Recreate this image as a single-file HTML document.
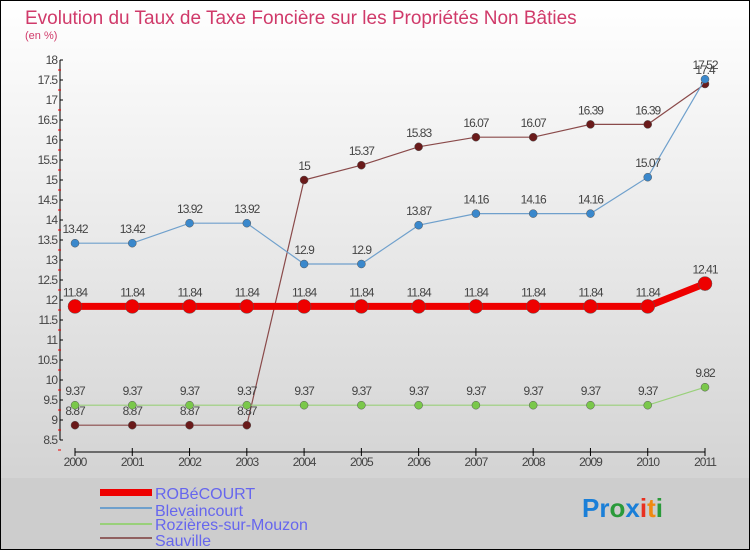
<!DOCTYPE html>
<html><head><meta charset="utf-8"><style>
body{margin:0;width:750px;height:550px;overflow:hidden;font-family:"Liberation Sans",sans-serif;}
svg text{font-family:"Liberation Sans",sans-serif;}
</style></head><body>
<svg id="c" width="750" height="550" xmlns="http://www.w3.org/2000/svg">
<defs><linearGradient id="bg" x1="0" y1="0" x2="0" y2="1"><stop offset="0" stop-color="#ffffff"/><stop offset="1" stop-color="#cdcdcd"/></linearGradient></defs>
<rect x="0.5" y="0.5" width="749" height="549" fill="url(#bg)" stroke="#000"/>
<rect x="1" y="478" width="748" height="71" fill="#cdcdcd"/>
<text x="25" y="24" font-size="19" fill="#d03a6a">Evolution du Taux de Taxe Foncière sur les Propriétés Non Bâties</text>
<text x="25" y="39" font-size="11" fill="#d03a6a">(en %)</text>
<g id="axes"></g><g id="series"></g>
<g>
<rect x="100" y="489" width="52" height="7" fill="#e00"/>
<text x="155" y="499" font-size="16" fill="#6666ee">ROBéCOURT</text>
<rect x="100" y="507" width="52" height="2" fill="#6fa0cc"/>
<text x="155" y="516" font-size="16" fill="#6666ee">Blevaincourt</text>
<rect x="100" y="523" width="52" height="2" fill="#99d07a"/>
<text x="155" y="530" font-size="16" fill="#6666ee">Rozières-sur-Mouzon</text>
<rect x="100" y="537" width="52" height="2" fill="#906060"/>
<text x="155" y="546" font-size="16" fill="#6666ee">Sauville</text>
</g>
<text x="582" y="517" font-size="26" font-weight="bold"><tspan fill="#1a7fd8">Pr</tspan><tspan fill="#2a9a3a">o</tspan><tspan fill="#1a7fd8">x</tspan><tspan fill="#e83020">i</tspan><tspan fill="#f08a10">t</tspan><tspan fill="#2a9a3a">i</tspan></text>
</svg>
<script>
const years=["2000","2001","2002","2003","2004","2005","2006","2007","2008","2009","2010","2011"];
const robecourt=[11.84,11.84,11.84,11.84,11.84,11.84,11.84,11.84,11.84,11.84,11.84,12.41];
const blevaincourt=[13.42,13.42,13.92,13.92,12.9,12.9,13.87,14.16,14.16,14.16,15.07,17.52];
const rozieres=[9.37,9.37,9.37,9.37,9.37,9.37,9.37,9.37,9.37,9.37,9.37,9.82];
const sauville=[8.87,8.87,8.87,8.87,15,15.37,15.83,16.07,16.07,16.39,16.39,17.4];
const yTicks=[8.5,9,9.5,10,10.5,11,11.5,12,12.5,13,13.5,14,14.5,15,15.5,16,16.5,17,17.5,18];
const NS="http://www.w3.org/2000/svg";
const X=i=>75+i*(630/(years.length-1));
const Y=v=>60+(18-v)*40;
function mk(t,a,p){const e=document.createElementNS(NS,t);for(const k in a)e.setAttribute(k,a[k]);p.appendChild(e);return e;}
const ax=document.getElementById('axes');
const yl=mk('line',{x1:60,y1:Y(18),x2:60,y2:Y(8.5),stroke:'#000'},ax);


yTicks.forEach(v=>{
 mk('line',{x1:60,y1:Y(v),x2:63,y2:Y(v),stroke:'#000'},ax);
 mk('line',{x1:58,y1:Y(v)+10,x2:61,y2:Y(v)+10,stroke:'#e00'},ax);
 const t=mk('text',{x:57,y:Y(v)+4,'font-size':12,'text-anchor':'end',fill:'#444','letter-spacing':'-1'},ax);
 t.textContent=String(v);
 
 
});
const xl=mk('line',{x1:X(0),y1:452,x2:X(years.length-1),y2:452,stroke:'#000'},ax);


years.forEach((y,i)=>{
 mk('line',{x1:X(i),y1:448,x2:X(i),y2:456,stroke:'#000'},ax);
 const t=mk('text',{x:X(i),y:466,'font-size':12,'text-anchor':'middle',fill:'#444','letter-spacing':'-1'},ax);
 t.textContent=y;
 
 
});
const sg=document.getElementById('series');
function series(d,name,col,dot,w,r,lbl){
 const g=mk('g',{},sg);
 
 
 const pl=mk('polyline',{points:d.map((v,i)=>X(i)+','+Y(v)).join(' '),fill:'none',stroke:col,'stroke-width':w},g);
 
 
 d.forEach((v,i)=>{
  const c=mk('circle',{cx:X(i),cy:Y(v),r:r,fill:dot,stroke:'#555','stroke-width':0.5},g);
  
  
  const t=mk('text',{x:X(i),y:Y(v)-10,'font-size':12,'text-anchor':'middle',fill:'#444','letter-spacing':'-1'},g);
  t.textContent=String(v);
  
  
 });
}
series(sauville,'sauville','#8a4a4a','#6a1a1a',1.2,4);
series(rozieres,'rozieres','#99d07a','#7ac84a',1.2,4);
series(blevaincourt,'blevaincourt','#6fa0cc','#3a88cc',1.2,4);
series(robecourt,'robecourt','#e00','#e00',7,7);
</script>
</body></html>
